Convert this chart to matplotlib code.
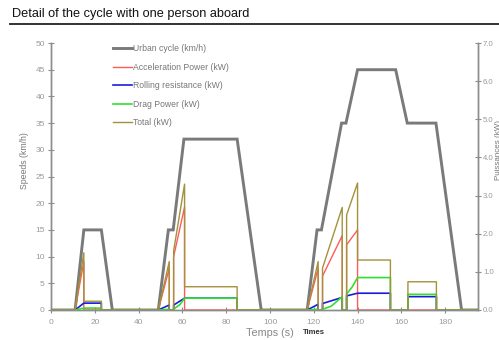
import matplotlib
matplotlib.use("Agg")
import matplotlib.pyplot as plt
from matplotlib.lines import Line2D
from matplotlib.ticker import FormatStrFormatter

plt.rcParams['font.family'] = ['Liberation Sans Narrow', 'Liberation Sans', 'DejaVu Sans']

# Urban cycle speed profile (km/h)
speed_t = [0, 11, 15, 23, 28, 49, 53.6, 55.8, 60.7, 85, 96, 117, 121.5, 123.5,
           132.7, 134.7, 140, 157.4, 162.7, 175.8, 187.5, 195]
speed_v = [0, 0, 15, 15, 0, 0, 15, 15, 32, 32, 0, 0, 15, 15,
           35, 35, 45, 45, 35, 35, 0, 0]

# Acceleration power (kW)
accel_t = [0, 11, 15, 15, 49, 54, 54, 56, 56, 61, 61, 117, 122, 122, 124, 124,
           133, 133, 135, 135, 140, 140, 195]
accel_v = [0, 0, 1.27, 0, 0, 1.09, 0, 0, 1.40, 2.70, 0, 0, 1.09, 0, 0, 0.89,
           1.95, 0, 0, 1.71, 2.10, 0, 0]

# Rolling resistance (kW)
roll_t = [0, 11, 15, 23, 23, 49, 54, 54, 56, 56, 61, 85, 85, 117, 122, 122, 124, 124,
          133, 133, 135, 135, 140, 155, 155, 163, 163, 176, 176, 195]
roll_v = [0, 0, 0.18, 0.18, 0, 0, 0.13, 0, 0, 0.13, 0.31, 0.31, 0, 0, 0.15, 0, 0, 0.17,
          0.33, 0, 0, 0.37, 0.44, 0.44, 0, 0, 0.35, 0.35, 0, 0]

# Drag power (kW)
drag_t = [0, 11, 15, 23, 23, 49, 54, 54, 56, 56, 59, 61, 85, 85, 117, 122, 122, 124, 124,
          128, 133, 133, 135, 135, 137.6, 140, 155, 155, 163, 163, 176, 176, 195]
drag_v = [0, 0, 0.05, 0.05, 0, 0, 0.02, 0, 0, 0.02, 0.15, 0.31, 0.31, 0, 0, 0.02, 0, 0, 0.02,
          0.10, 0.35, 0, 0, 0.42, 0.61, 0.85, 0.85, 0, 0, 0.41, 0.41, 0, 0]

# Total (kW)
total_t = [0, 11, 15, 15, 23, 23, 49, 54, 54, 56, 56, 61, 61, 85, 85, 117, 122, 122, 124, 124,
           133, 133, 135, 135, 140, 140, 155, 155, 163, 163, 176, 176, 195]
total_v = [0, 0, 1.50, 0.23, 0.23, 0, 0, 1.27, 0, 0, 1.55, 3.30, 0.61, 0.61, 0, 0, 1.27, 0, 0, 1.10,
           2.69, 0, 0, 2.49, 3.33, 1.31, 1.31, 0, 0, 0.74, 0.74, 0, 0]

axis_col = '#8c8c8c'
label_col = '#9a9a9a'

fig = plt.figure(figsize=(4.99, 3.40), dpi=100)
ax = fig.add_axes([51/499, 1 - 310/340, (478 - 51)/499, (310 - 43)/340])
ax2 = ax.twinx()

# Speed on the left axis, powers on the right axis
ax.plot(speed_t, speed_v, color='#7a7a7a', lw=2.1, label='Urban cycle (km/h)', solid_joinstyle='miter')
ax2.plot(accel_t, accel_v, color='#ff5a5a', lw=1.0, label='Acceleration Power (kW)')
ax2.plot(roll_t, roll_v, color='#1c1cd8', lw=1.2, label='Rolling resistance (kW)')
ax2.plot(drag_t, drag_v, color='#30e030', lw=1.2, label='Drag Power (kW)')
ax2.plot(total_t, total_v, color='#a3923c', lw=1.0, label='Total (kW)')

ax.set_xlim(0, 195)
ax.set_ylim(0, 50)
ax2.set_ylim(0, 7)
ax.set_xticks(range(0, 181, 20))
ax.set_yticks(range(0, 51, 5))
ax2.set_yticks([0, 1, 2, 3, 4, 5, 6, 7])
ax2.yaxis.set_major_formatter(FormatStrFormatter('%.1f'))

for a in (ax, ax2):
    a.spines['top'].set_visible(False)
    for s in ('left', 'right', 'bottom'):
        a.spines[s].set_color(axis_col)
        a.spines[s].set_linewidth(1.0)
    a.tick_params(direction='inout', length=5, width=0.8, color=axis_col,
                  labelcolor=label_col, labelsize=6, pad=2)
ax.tick_params(axis='x', pad=4)
ax2.tick_params(axis='y', pad=1, labelsize=5.6)

ax.set_ylabel('Speeds (km/h)', fontsize=6.3, color='#777777')
ax.yaxis.set_label_coords(-0.052, 0.56)
ax2.set_ylabel('Puissances (kW)', fontsize=5.8, color='#777777', rotation=90)
ax2.yaxis.set_label_coords(1.039, 0.60)

fig.text(270/499, 1 - 333.5/340, 'Temps (s)', fontsize=7.8, color='#888888', ha='center', va='center')
fig.text(303/499, 1 - 332/340, 'Times', fontsize=5.6, color='#333333', fontweight='bold',
         ha='left', va='center')

# Legend combining both axes
handles = ax.get_lines()[:1] + ax2.get_lines()
leg = ax2.legend(handles=handles, loc='upper left', bbox_to_anchor=(0.136, 1.012),
                 frameon=False, fontsize=6.2, handlelength=2.2, handletextpad=0.1,
                 labelspacing=1.1, borderpad=0)
for t in leg.get_texts():
    t.set_color('#777777')

# Title and rule underneath
fig.text(12/499, 1 - 14/340, 'Detail of the cycle with one person aboard', fontsize=9.2,
         color='#111111', ha='left', va='center')
fig.add_artist(Line2D([10/499, 1.0], [1 - 23.5/340, 1 - 23.5/340], transform=fig.transFigure,
                      color='#222222', lw=1.3))

fig.savefig('out.png', dpi=100)
